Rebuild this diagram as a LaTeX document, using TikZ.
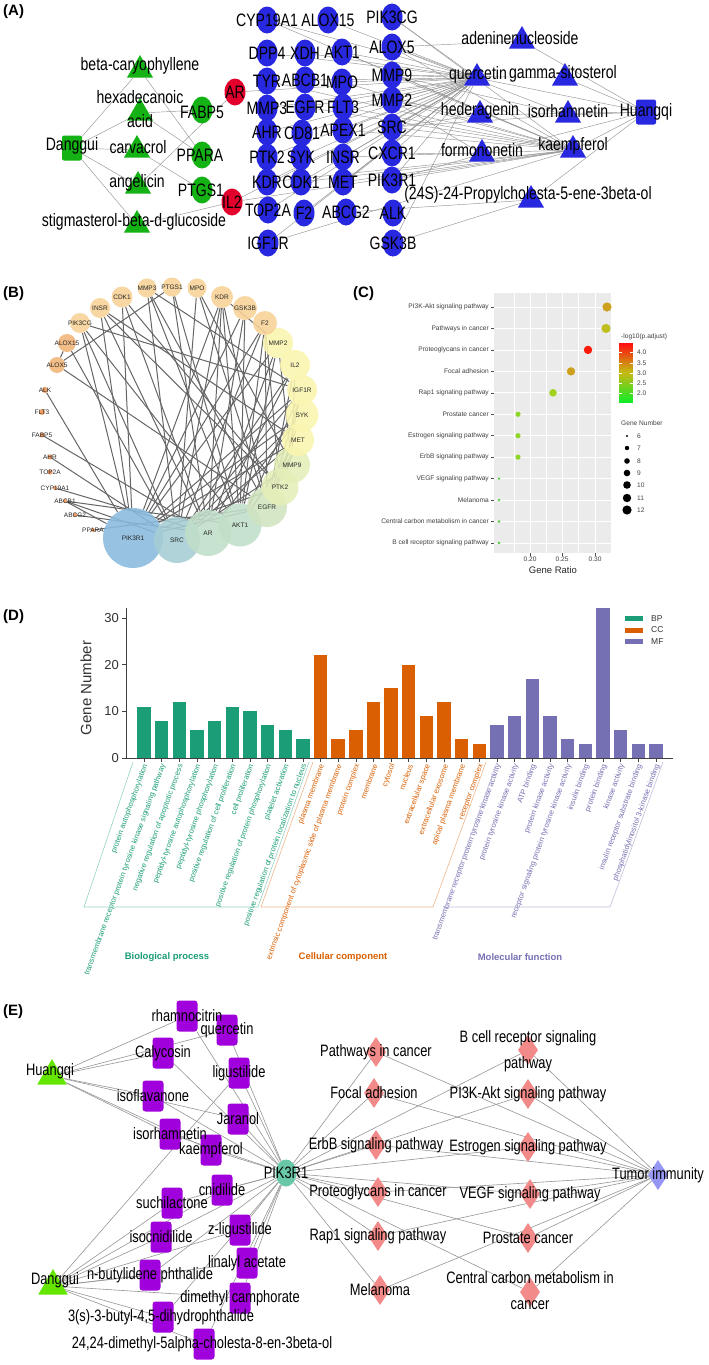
\documentclass[tikz,border=0pt]{standalone}
\usepackage{fontspec}
\setmainfont{Liberation Sans}
\newfontfamily\narrowfont[FakeStretch=0.78]{Liberation Sans}
\usepackage{tikz}
\usetikzlibrary{shapes.geometric,backgrounds}

\definecolor{cmpgreen}{RGB}{20,178,20}
\definecolor{tgtblue}{RGB}{40,40,225}
\definecolor{tgtred}{RGB}{228,0,45}
\definecolor{edgegray}{RGB}{150,150,150}
\definecolor{bpcol}{RGB}{27,158,119}
\definecolor{cccol}{RGB}{217,95,2}
\definecolor{mfcol}{RGB}{117,112,179}
\definecolor{herbgreen}{RGB}{100,230,0}
\definecolor{ingpurple}{RGB}{160,0,220}
\definecolor{hubteal}{RGB}{105,200,168}
\definecolor{pathpink}{RGB}{242,138,138}
\definecolor{immblue}{RGB}{150,150,245}
\definecolor{plotbg}{RGB}{235,235,235}
\definecolor{cLow}{RGB}{20,235,40}
\definecolor{cMid}{RGB}{195,185,20}
\definecolor{cHigh}{RGB}{255,15,15}
\definecolor{dotA}{RGB}{205,160,30}
\definecolor{dotB}{RGB}{190,190,30}
\definecolor{dotC}{RGB}{255,25,10}
\definecolor{dotE}{RGB}{160,210,30}
\definecolor{dotF}{RGB}{140,215,40}
\definecolor{dotG}{RGB}{80,200,60}
\definecolor{ppiBlue}{RGB}{137,186,222}
\definecolor{ppiTeal}{RGB}{165,205,212}
\definecolor{ppiSage}{RGB}{192,222,200}
\definecolor{ppiGreen}{RGB}{208,228,192}
\definecolor{ppiLime}{RGB}{228,238,184}
\definecolor{ppiYellow}{RGB}{250,245,175}
\definecolor{ppiPeach}{RGB}{248,210,150}
\definecolor{ppiOrange}{RGB}{242,180,120}
\definecolor{ppiDark}{RGB}{236,145,80}

\newcommand{\netfont}{\narrowfont\fontsize{18}{24}\selectfont}
\newcommand{\pwfont}{\narrowfont\fontsize{16.5}{26}\selectfont}

\begin{document}
\begin{tikzpicture}[x=1pt, y=-1pt,
  panellbl/.style={font=\fontsize{15}{15}\selectfont\bfseries, anchor=west, inner sep=0pt},
  herbsq/.style={rectangle, rounded corners=2pt, fill=#1, minimum width=20pt, minimum height=25pt, inner sep=0pt},
  cmptri/.style={regular polygon, regular polygon sides=3, fill=#1, minimum size=30pt, inner sep=0pt},
  tgtdot/.style={ellipse, fill=#1, minimum width=21pt, minimum height=27pt, inner sep=0pt},
  netlbl/.style={font=\netfont, inner sep=0pt, align=center},
  netedge/.style={draw=edgegray, line width=0.45pt},
  ppinode/.style={circle, fill=#1, fill opacity=0.88, inner sep=0pt},
  ppilbl/.style={font=\fontsize{6.5}{6.5}\selectfont, text=black!85, inner sep=0pt},
  ppiedge/.style={draw=black!60, line width=1pt},
  ticklbl/.style={font=\fontsize{6.6}{6.6}\selectfont, text=black!75, inner sep=1pt},
  axisline/.style={draw=black!75, line width=0.9pt},
  golbl/.style={font=\fontsize{7.6}{7.6}\selectfont, anchor=east, rotate=70, inner sep=0.5pt},
  grplbl/.style={font=\fontsize{9.5}{9.5}\selectfont\bfseries},
  ingsq/.style={rectangle, rounded corners=3pt, fill=ingpurple, minimum width=21pt, minimum height=31pt, inner sep=0pt},
  pwdia/.style={diamond, fill=#1, minimum width=20pt, minimum height=30pt, inner sep=0pt},
  pwlbl/.style={font=\pwfont, inner sep=0pt, align=center},
  pwedge/.style={draw=edgegray, line width=0.6pt},
]
\useasboundingbox (0,0) rectangle (709,1365);
\begin{scope}[on background layer]
  \fill[white] (0,0) rectangle (709,1365);
\end{scope}

% ── (A) herb - compound - target network ─────────────────────────────────────
\node[panellbl] (labA) at (3,12) {(A)};
\node[herbsq=cmpgreen] (aDanggui) at (72,148) {};
\node[cmptri=cmpgreen] (aBeta)  at (140,70) {};
\node[cmptri=cmpgreen] (aHexa)  at (140,113) {};
\node[cmptri=cmpgreen] (aCarv)  at (137,150) {};
\node[cmptri=cmpgreen] (aAngel) at (138,186) {};
\node[cmptri=cmpgreen] (aStig)  at (137,225) {};
\node[tgtdot=cmpgreen] (aFABP5) at (202,110) {};
\node[tgtdot=cmpgreen] (aPPARA) at (202,155) {};
\node[tgtdot=cmpgreen] (aPTGS1) at (202,190) {};
\node[tgtdot=tgtred] (aAR)  at (235,92) {};
\node[tgtdot=tgtred] (aIL2) at (232,202) {};
\def\blueTargets{CYP19A1/267/20, ALOX15/328/20, PIK3CG/392/17, DPP4/267/53,
  XDH/305/53, AKT1/342/52, ALOX5/392/47, TYR/267/81, ABCB1/305/80, MPO/342/82,
  MMP9/392/75, MMP3/267/108, EGFR/305/107, FLT3/343/107, MMP2/392/100,
  AHR/267/132, CD81/302/133, APEX1/343/130, SRC/392/127, PTK2/267/157,
  SYK/301/157, INSR/343/157, CXCR1/392/153, KDR/267/182, CDK1/301/182,
  MET/343/182, PIK3R1/392/180, TOP2A/268/210, F2/304/213, ABCG2/346/212,
  ALK/393/213, IGF1R/268/243, GSK3B/393/243}
\foreach \n/\x/\y in \blueTargets
  \node[tgtdot=tgtblue] (a\n) at (\x,\y) {};
\node[cmptri=tgtblue] (aAdenine) at (522,41) {};
\node[cmptri=tgtblue] (aQuer)    at (477,78) {};
\node[cmptri=tgtblue] (aGamma)   at (565,78) {};
\node[cmptri=tgtblue] (aHeder)   at (480,115) {};
\node[cmptri=tgtblue] (aIsorh)   at (568,115) {};
\node[cmptri=tgtblue] (aFormo)   at (482,154) {};
\node[cmptri=tgtblue] (aKaemp)   at (573,150) {};
\node[cmptri=tgtblue] (aPropyl)  at (531,200) {};
\node[herbsq=tgtblue] (aHuangqi) at (646,112) {};

\node[netlbl] (tDanggui) at (72,146) {Danggui};
\node[netlbl] (tBeta)  at (140,66)  {beta-caryophyllene};
\node[netlbl] (tHexa)  at (140,109) {hexadecanoic\\acid};
\node[netlbl] (tCarv)  at (138,147) {carvacrol};
\node[netlbl] (tAngel) at (137,183) {angelicin};
\node[netlbl] (tStig)  at (134,222) {stigmasterol-beta-d-glucoside};
\node[netlbl] (tFABP5) at (202,112) {FABP5};
\node[netlbl] (tPPARA) at (200,155) {PPARA};
\node[netlbl] (tPTGS1) at (201,190) {PTGS1};
\node[netlbl] (tAR)    at (235,92)  {AR};
\node[netlbl] (tIL2)   at (232,202) {IL2};
\foreach \n/\x/\y in \blueTargets
  \node[netlbl] (t\n) at (\x,\y) {\n};
\node[netlbl] (tAdenine) at (520,38)  {adeninenucleoside};
\node[netlbl] (tQuer)    at (478,75)  {quercetin};
\node[netlbl] (tGamma)   at (563,74)  {gamma-sitosterol};
\node[netlbl] (tHeder)   at (480,111) {hederagenin};
\node[netlbl] (tIsorh)   at (568,111) {isorhamnetin};
\node[netlbl] (tFormo)   at (482,150) {formononetin};
\node[netlbl] (tKaemp)   at (573,146) {kaempferol};
\node[netlbl] (tPropyl)  at (528,195) {(24S)-24-Propylcholesta-5-ene-3beta-ol};
\node[netlbl] (tHuangqi) at (646,112) {Huangqi};

\begin{scope}[on background layer]
  \foreach \s/\t in {Danggui/Beta, Danggui/Hexa, Danggui/Carv, Danggui/Angel,
    Danggui/Stig, Beta/PPARA, Hexa/FABP5, Hexa/PPARA, Carv/PTGS1, Angel/AR,
    Stig/IL2, AR/Quer, IL2/Quer, IL2/Kaemp}
    \draw[netedge] (a\s) -- (a\t);
  \foreach \t in {ALOX15, XDH, AKT1, ABCB1, MPO, MMP3, EGFR, FLT3, AHR, CD81,
    APEX1, SYK, INSR, KDR, CDK1, MET, TOP2A, F2, IGF1R, PIK3CG, ALOX5, MMP9,
    MMP2, SRC, CXCR1, PIK3R1, GSK3B, DPP4, CYP19A1, PTK2}
    \draw[netedge] (aQuer) -- (a\t);
  \foreach \t in {AKT1, MPO, EGFR, FLT3, APEX1, INSR, MET, KDR, MMP9, MMP2, SRC,
    PIK3R1, PIK3CG, ALOX5, CDK1, TYR, CYP19A1, IGF1R}
    \draw[netedge] (aKaemp) -- (a\t);
  \foreach \s/\t in {Adenine/ALOX5, Gamma/MMP9, Heder/MMP2, Heder/SRC,
    Isorh/MMP9, Isorh/SRC, Isorh/ALOX5, Formo/CXCR1, Formo/PIK3R1, Formo/MMP2,
    Propyl/ABCG2, Propyl/GSK3B}
    \draw[netedge] (a\s) -- (a\t);
  \foreach \t in {Adenine, Quer, Gamma, Heder, Isorh, Formo, Kaemp, Propyl}
    \draw[netedge] (aHuangqi) -- (a\t);
\end{scope}

% ── (B) PPI network of shared targets ────────────────────────────────────────
\node[panellbl] (labB) at (3,294) {(B)};
\def\ppiNodes{PIK3R1/133/538/60/ppiBlue, SRC/177/540/46/ppiTeal,
  AR/208/533/46/ppiSage, AKT1/240/525/43/ppiSage, EGFR/267/507/40/ppiGreen,
  PTK2/280/487/37/ppiLime, MMP9/292/465/36/ppiLime, MET/298/440/32/ppiYellow,
  SYK/302/415/33/ppiYellow, IGF1R/302/390/30/ppiYellow, IL2/295/365/30/ppiYellow,
  MMP2/278/343/30/ppiYellow, F2/265/323/24/ppiPeach, GSK3B/245/308/24/ppiPeach,
  KDR/222/297/22/ppiPeach, MPO/197/288/19/ppiPeach, PTGS1/172/287/19/ppiPeach,
  MMP3/147/288/19/ppiPeach, CDK1/122/297/21/ppiPeach, INSR/100/308/20/ppiPeach,
  PIK3CG/80/323/20/ppiPeach, ALOX15/67/343/18/ppiOrange, ALOX5/57/365/16/ppiOrange,
  ALK/45/390/6/ppiDark, FLT3/42/412/6/ppiDark, FABP5/42/435/5/ppiDark,
  AHR/50/457/5/ppiDark, TOP2A/50/472/5/ppiDark, CYP19A1/55/488/4/ppiDark,
  ABCB1/65/501/4/ppiDark, ABCG2/75/515/4/ppiDark, PPARA/93/530/4/ppiDark}
\foreach \n/\x/\y/\d/\c in \ppiNodes
  \node[ppinode=\c, minimum size=\d pt] (b\n) at (\x,\y) {};
\foreach \n/\x/\y/\d/\c in \ppiNodes
  \node[ppilbl] (bt\n) at (\x,\y) {\n};
\begin{scope}[on background layer]
  \foreach \s/\t in {PIK3R1/PIK3CG, PIK3R1/INSR, PIK3R1/CDK1, PIK3R1/KDR,
    PIK3R1/ALK, PIK3R1/ABCB1, PIK3R1/IGF1R, PIK3R1/SYK, PIK3R1/MET,
    PIK3R1/MMP2, PIK3R1/F2, PIK3R1/GSK3B, PIK3R1/PTK2, PIK3R1/EGFR,
    SRC/PIK3CG, SRC/MMP3, SRC/KDR, SRC/MPO, SRC/F2, SRC/IL2, SRC/IGF1R,
    SRC/SYK, SRC/MET, SRC/ALOX15, SRC/ABCB1, SRC/AHR, SRC/MMP9,
    AR/INSR, AR/CDK1, AR/PTGS1, AR/GSK3B, AR/MMP2, AR/IL2, AR/SYK, AR/FABP5,
    AR/CYP19A1, AR/ABCG2, AR/KDR,
    AKT1/PIK3CG, AKT1/MMP3, AKT1/KDR, AKT1/GSK3B, AKT1/F2, AKT1/IGF1R,
    AKT1/MET, AKT1/MMP2, AKT1/ABCB1, AKT1/PTGS1,
    EGFR/MMP3, EGFR/MPO, EGFR/KDR, EGFR/F2, EGFR/IGF1R, EGFR/IL2, EGFR/SYK,
    EGFR/MET, EGFR/ALOX5, EGFR/PPARA,
    PTK2/CDK1, PTK2/F2, PTK2/IGF1R, PTK2/MET, PTK2/INSR,
    MMP9/MPO, MMP9/MMP2, MMP9/IL2, ALOX15/ALOX5, ALOX5/PTGS1, PIK3CG/IGF1R,
    MMP3/IGF1R, KDR/MMP2, INSR/MET}
    \draw[ppiedge] (b\s) -- (b\t);
\end{scope}

% ── (C) KEGG enrichment dot plot ─────────────────────────────────────────────
\node[panellbl] (labC) at (353,294) {(C)};
\fill[plotbg] (494,293) rectangle (612,553);
\foreach \gx in {514,546,578,611}
  \draw[white, line width=0.4pt] (\gx,293) -- (\gx,553);
\foreach \gx in {530,562,595}
  \draw[white, line width=0.8pt] (\gx,293) -- (\gx,553);
\foreach \t/\gx/\rr/\cc [count=\k from 0] in {
  PI3K-Akt signaling pathway/607/4.6/dotA,
  Pathways in cancer/606/4.6/dotB,
  Proteoglycans in cancer/588/4.2/dotC,
  Focal adhesion/571/4.2/dotA,
  Rap1 signaling pathway/553/3.8/dotE,
  Prostate cancer/518/2.6/dotF,
  Estrogen signaling pathway/518/2.6/dotF,
  ErbB signaling pathway/518/2.6/dotF,
  VEGF signaling pathway/499/1.3/dotG,
  Melanoma/499/1.3/dotG,
  Central carbon metabolism in cancer/499/1.3/dotG,
  B cell receptor signaling pathway/499/1.3/dotG}{
  \pgfmathsetmacro\ry{307+21.45*\k}
  \draw[white, line width=0.8pt] (494,\ry) -- (612,\ry);
  \draw[black!70, line width=0.5pt] (491,\ry) -- (494,\ry);
  \node[ticklbl, anchor=east] (cl\k) at (490,\ry) {\t};
  \fill[\cc] (\gx,\ry) circle[radius=\rr pt];
}
\foreach \r/\gx in {0.20/530, 0.25/562, 0.30/595}{
  \draw[black!70, line width=0.5pt] (\gx,553) -- (\gx,556);
  \node[ticklbl, anchor=north] at (\gx,556) {\r};
}
\node[font=\fontsize{9.5}{9.5}\selectfont, text=black!85] (cXlab) at (553,570) {Gene Ratio};
% colour bar
\node[ticklbl, anchor=west] (cCbar) at (620,337) {-log10(p.adjust)};
\foreach \i in {0,...,29}{
  \ifnum\i<15
    \pgfmathtruncatemacro\pc{\i*100/14}
    \colorlet{barc}{cMid!\pc!cLow}
  \else
    \pgfmathtruncatemacro\pc{(\i-15)*100/14}
    \colorlet{barc}{cHigh!\pc!cMid}
  \fi
  \fill[barc] (619,{403-2*\i}) rectangle (633,{400.6-2*\i});
}
\foreach \v/\gy in {4.0/352, 3.5/363, 3.0/373, 2.5/383, 2.0/393}{
  \draw[white, line width=0.5pt] (619,\gy) -- (622,\gy) (630,\gy) -- (633,\gy);
  \node[ticklbl, anchor=west] at (636,\gy) {\v};
}
% size legend
\node[ticklbl, anchor=west] (cSize) at (620,423) {Gene Number};
\foreach \v/\gy/\rr in {6/436/1.2, 7/448/2.2, 8/461/2.8, 9/473/3.3, 10/485/3.8, 11/498/4.2, 12/510/4.6}{
  \fill[black] (627,\gy) circle[radius=\rr pt];
  \node[ticklbl, anchor=west] at (636,\gy) {\v};
}

% ── (D) GO enrichment bar chart ──────────────────────────────────────────────
\node[panellbl] (labD) at (3,617) {(D)};
\foreach \v [count=\k from 0] in {11,8,12,6,8,11,10,7,6,4}
  \fill[bpcol] ({137.3+17.65*\k},758) rectangle ({150.7+17.65*\k},{758-4.665*\v});
\foreach \v [count=\k from 10] in {22,4,6,12,15,20,9,12,4,3}
  \fill[cccol] ({137.3+17.65*\k},758) rectangle ({150.7+17.65*\k},{758-4.665*\v});
\foreach \v [count=\k from 20] in {7,9,17,9,4,3,32.1,6,3,3}
  \fill[mfcol] ({137.3+17.65*\k},758) rectangle ({150.7+17.65*\k},{758-4.665*\v});
\draw[axisline] (126,608) -- (126,758) -- (673,758);
\foreach \k in {0,...,29}
  \draw[axisline, line width=0.6pt] ({144+17.65*\k},758) -- ({144+17.65*\k},761.5);
\foreach \v in {0,10,20,30}{
  \draw[axisline] (122,{758-4.665*\v}) -- (126,{758-4.665*\v});
  \node[font=\fontsize{13}{13}\selectfont, text=black!80, anchor=east, inner sep=0pt] at (119,{758-4.665*\v}) {\v};
}
\node[rotate=90, font=\fontsize{15}{15}\selectfont, text=black!80] (dYlab) at (86,688) {Gene Number};

\foreach \t [count=\k from 0] in {protein autophosphorylation,
  transmembrane receptor protein tyrosine kinase signaling pathway,
  negative regulation of apoptotic process, peptidyl-tyrosine autophosphorylation,
  peptidyl-tyrosine phosphorylation, positive regulation of cell proliferation,
  cell proliferation, positive regulation of protein phosphorylation,
  platelet activation, positive regulation of protein localization to nucleus}
  \node[golbl, text=bpcol] at ({146+17.65*\k},764) {\t};
\foreach \t [count=\k from 10] in {plasma membrane,
  extrinsic component of cytoplasmic side of plasma membrane, protein complex,
  membrane, cytosol, nucleus, extracellular space, extracellular exosome,
  apical plasma membrane, receptor complex}
  \node[golbl, text=cccol] at ({146+17.65*\k},764) {\t};
\foreach \t [count=\k from 20] in {transmembrane receptor protein tyrosine kinase activity,
  protein tyrosine kinase activity, ATP binding, protein kinase activity,
  receptor signaling protein tyrosine kinase activity, insulin binding,
  protein binding, kinase activity, insulin receptor substrate binding,
  phosphatidylinositol 3-kinase binding}
  \node[golbl, text=mfcol] at ({146+17.65*\k},764) {\t};

\draw[bpcol!45, line width=0.6pt] (133,762) -- (84,907) -- (258,907) -- (309,762);
\draw[cccol!45, line width=0.6pt] (313,762) -- (261,907) -- (433,907) -- (486,762);
\draw[mfcol!45, line width=0.6pt] (497,762) -- (445,907) -- (610,907) -- (663,762);
\node[grplbl, text=bpcol] (dBP) at (167,957) {Biological process};
\node[grplbl, text=cccol] (dCC) at (343,957) {Cellular component};
\node[grplbl, text=mfcol] (dMF) at (520,957) {Molecular function};

\foreach \n/\c/\gy in {BP/bpcol/618.5, CC/cccol/630, MF/mfcol/641.5}{
  \fill[\c] (625,{\gy-2.5}) rectangle (643,{\gy+2.5});
  \node[font=\fontsize{8.5}{8.5}\selectfont, text=black!80, anchor=west, inner sep=0pt] at (651,\gy) {\n};
}

% ── (E) herb - ingredient - PIK3R1 - pathway network ─────────────────────────
\node[panellbl] (labE) at (3,1012) {(E)};
\node[cmptri=herbgreen, minimum size=34pt] (eHuangqi) at (52,1076) {};
\node[cmptri=herbgreen, minimum size=34pt] (eDanggui) at (53,1286) {};
\def\ingList{Rham/187/1016/rhamnocitrin, Quer/227/1030/quercetin,
  Caly/163/1053/Calycosin, Ligu/239/1073/ligustilide, Isof/153/1096/isoflavanone,
  Jara/238/1119/Jaranol, Isor/170/1134/isorhamnetin, Kaem/211/1150/kaempferol,
  Cnid/222/1190/cnidilide, Such/172/1203/suchilactone, Zlig/240/1230/z-ligustilide,
  Isoc/161/1237/isocnidilide, Lina/247/1263/linalyl acetate,
  Nbut/150/1275/n-butylidene phthalide, Dime/240/1298/dimethyl camphorate}
\foreach \n/\x/\y/\t in \ingList
  \node[ingsq] (e\n) at (\x,\y) {};
\node[ingsq] (eThree)  at (163,1317) {};
\node[ingsq] (eTwenty) at (204,1344) {};
\node[ellipse, fill=hubteal, minimum width=21pt, minimum height=27pt, inner sep=0pt] (ePIK3R1) at (286,1173) {};
\def\pwList{PathCan/376/1052/Pathways in cancer, Focal/374/1093/Focal adhesion,
  ErbB/376/1145/ErbB signaling pathway, Proteo/378/1192/Proteoglycans in cancer,
  Rapone/378/1236/Rap1 signaling pathway, Melan/380/1290/Melanoma,
  PIThree/528/1094/PI3K-Akt signaling pathway, Estro/528/1147/Estrogen signaling pathway,
  VEGF/530/1194/VEGF signaling pathway, Prost/528/1238/Prostate cancer}
\foreach \n/\x/\y/\t in \pwList
  \node[pwdia=pathpink] (e\n) at (\x,\y) {};
\node[pwdia=pathpink] (eBcell)   at (528,1050) {};
\node[pwdia=pathpink] (eCentral) at (530,1292) {};
\node[pwdia=immblue]  (eTumor)   at (658,1175) {};

\node[pwlbl] (uHuangqi) at (50,1071) {Huangqi};
\node[pwlbl] (uDanggui) at (55,1280) {Danggui};
\foreach \n/\x/\y/\t in \ingList
  \node[pwlbl] (u\n) at (\x,\y) {\t};
\node[pwlbl] (uThree)  at (161,1317) {3(s)-3-butyl-4,5-dihydrophthalide};
\node[pwlbl] (uTwenty) at (202,1344) {24,24-dimethyl-5alpha-cholesta-8-en-3beta-ol};
\node[pwlbl] (uPIK3R1) at (286,1173) {PIK3R1};
\foreach \n/\x/\y/\t in \pwList
  \node[pwlbl] (u\n) at (\x,\y) {\t};
\node[pwlbl] (uBcell)   at (528,1051) {B cell receptor signaling\\pathway};
\node[pwlbl] (uCentral) at (530,1291) {Central carbon metabolism in\\cancer};
\node[pwlbl] (uTumor)   at (658,1175) {Tumor immunity};

\begin{scope}[on background layer]
  \foreach \t in {Rham, Quer, Caly, Isof, Isor, Kaem, Jara}
    \draw[pwedge] (eHuangqi) -- (e\t);
  \foreach \t in {Ligu, Cnid, Such, Zlig, Isoc, Lina, Nbut, Dime, Three, Twenty}
    \draw[pwedge] (eDanggui) -- (e\t);
  \foreach \t in {Rham, Quer, Caly, Ligu, Isof, Jara, Isor, Kaem, Cnid, Such,
    Zlig, Isoc, Lina, Nbut, Dime, Three, Twenty}
    \draw[pwedge] (e\t) -- (ePIK3R1);
  \foreach \t in {PathCan, Focal, ErbB, Proteo, Rapone, Melan, Bcell, PIThree,
    Estro, VEGF, Prost, Central}{
    \draw[pwedge] (ePIK3R1) -- (e\t);
    \draw[pwedge] (e\t) -- (eTumor);
  }
\end{scope}
\end{tikzpicture}
\end{document}
